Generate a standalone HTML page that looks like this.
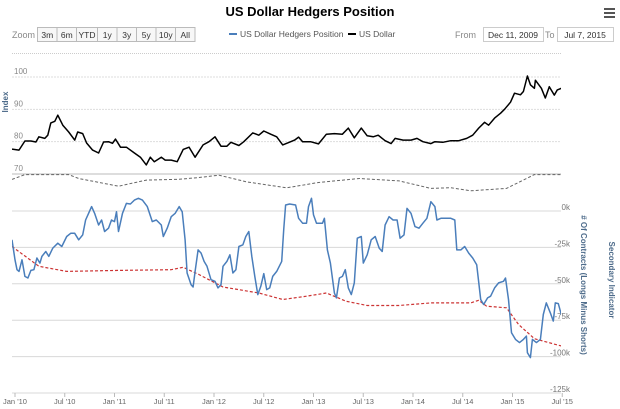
<!DOCTYPE html>
<html><head><meta charset="utf-8"><style>
body{margin:0;background:#fff;font-family:"Liberation Sans",sans-serif;}
svg{display:block}
</style></head><body>
<svg id="chart" width="620" height="409" viewBox="0 0 620 409" xmlns="http://www.w3.org/2000/svg" font-family="Liberation Sans, sans-serif">
<text x="310" y="16" text-anchor="middle" font-size="13" font-weight="bold" fill="#000">US Dollar Hedgers Position</text>
<g fill="#555"><rect x="604" y="8" width="11" height="2"/><rect x="604" y="12" width="11" height="2"/><rect x="604" y="16" width="11" height="2"/></g>
<text x="12" y="38" font-size="9" fill="#888">Zoom</text>
<g id="zoomBtns"></g>
<g>
<g><line x1="229" y1="34" x2="237" y2="34" stroke="#4a7ebb" stroke-width="2"/><text x="240" y="37" font-size="8.5" fill="#555">US Dollar Hedgers Position</text></g>
<g><line x1="348" y1="34" x2="356" y2="34" stroke="#000" stroke-width="2"/><text x="359" y="37" font-size="8.5" fill="#555">US Dollar</text></g>
</g>
<text x="455" y="38" font-size="9" fill="#888">From</text>
<g><rect x="483.5" y="27.5" width="60" height="14" fill="#fff" stroke="#ccc"/><text x="513" y="38" text-anchor="middle" font-size="8.5" fill="#333">Dec 11, 2009</text></g>
<text x="545" y="38" font-size="9" fill="#888">To</text>
<g><rect x="557.5" y="27.5" width="56" height="14" fill="#fff" stroke="#ccc"/><text x="585" y="38" text-anchor="middle" font-size="8.5" fill="#333">Jul 7, 2015</text></g>
<line x1="12" y1="53.5" x2="561" y2="53.5" stroke="#ccc" stroke-dasharray="1,1"/>
<g id="grid"></g>
<defs><clipPath id="botClip"><rect x="12" y="174" width="549" height="230"/></clipPath><clipPath id="topClip"><rect x="12" y="60" width="549" height="114"/></clipPath></defs>
<g id="series"></g>
<g id="axes"></g>
<text transform="translate(8,102) rotate(-90)" text-anchor="middle" font-size="8" font-weight="bold" fill="#4d6b8a">Index</text>
<text transform="translate(581,285) rotate(90)" text-anchor="middle" font-size="8" font-weight="bold" fill="#4d6b8a"># Of Contracts (Longs Minus Shorts)</text>
<text transform="translate(609,280) rotate(90)" text-anchor="middle" font-size="8" font-weight="bold" fill="#4d6b8a">Secondary Indicator</text>
</svg>
<script>
const zoomLabels=["3m","6m","YTD","1y","3y","5y","10y","All"];
const xTickLabels=["Jan '10","Jul '10","Jan '11","Jul '11","Jan '12","Jul '12","Jan '13","Jul '13","Jan '14","Jul '14","Jan '15","Jul '15"];
const xTickYears=[2010,2010.5,2011,2011.5,2012,2012.5,2013,2013.5,2014,2014.5,2015,2015.5];
const leftTicks=[70,80,90,100];
const rightTicks=[0,-25,-50,-75,-100,-125];
const rightTickLabels=["0k","-25k","-50k","-75k","-100k","-125k"];
const usdDates=[2009.97,2010.04,2010.10,2010.16,2010.21,2010.24,2010.30,2010.33,2010.36,2010.40,2010.43,2010.48,2010.54,2010.60,2010.63,2010.68,2010.72,2010.78,2010.84,2010.89,2010.94,2010.98,2011.01,2011.06,2011.12,2011.20,2011.26,2011.32,2011.36,2011.40,2011.47,2011.51,2011.57,2011.63,2011.69,2011.75,2011.81,2011.89,2011.95,2012.01,2012.07,2012.13,2012.17,2012.25,2012.30,2012.39,2012.45,2012.50,2012.57,2012.63,2012.69,2012.75,2012.81,2012.85,2012.89,2012.97,2013.05,2013.13,2013.21,2013.29,2013.35,2013.41,2013.48,2013.54,2013.60,2013.65,2013.72,2013.78,2013.82,2013.90,2013.98,2014.04,2014.10,2014.18,2014.22,2014.30,2014.38,2014.46,2014.54,2014.60,2014.66,2014.72,2014.76,2014.82,2014.88,2014.92,2014.98,2015.02,2015.08,2015.11,2015.15,2015.18,2015.22,2015.23,2015.29,2015.33,2015.37,2015.42,2015.45,2015.49];
const usdValues=[77.7,77.4,80.2,80.2,79.9,81.5,81.0,82.0,85.8,86.3,88.2,85.1,83.0,80.5,83.0,82.5,79.6,77.4,76.5,79.9,80.0,79.5,80.8,78.3,78.3,76.5,75.2,72.8,75.2,73.8,75.2,74.3,74.3,73.8,77.6,78.3,75.2,79.0,80.0,81.5,78.6,78.6,79.8,78.8,80.0,82.7,82.0,83.3,82.3,81.5,79.0,79.7,80.5,81.4,80.0,80.0,79.3,82.3,82.5,82.3,84.2,81.2,84.2,81.8,81.5,82.0,80.3,79.4,81.0,80.5,80.5,81.0,80.0,79.4,80.0,79.8,80.3,80.3,81.0,82.0,84.2,86.0,85.1,87.3,88.8,90.0,92.2,95.0,94.5,95.5,100.3,97.6,96.5,99.0,96.5,93.5,97.0,94.4,96.0,96.5];
const hedgeDates=[2009.97,2010.00,2010.02,2010.04,2010.07,2010.10,2010.13,2010.16,2010.19,2010.22,2010.25,2010.27,2010.31,2010.34,2010.38,2010.43,2010.47,2010.52,2010.56,2010.60,2010.64,2010.68,2010.71,2010.74,2010.77,2010.80,2010.84,2010.87,2010.90,2010.94,2010.97,2011.00,2011.02,2011.04,2011.08,2011.12,2011.16,2011.20,2011.24,2011.28,2011.33,2011.38,2011.42,2011.47,2011.49,2011.53,2011.57,2011.61,2011.65,2011.68,2011.71,2011.73,2011.77,2011.79,2011.81,2011.84,2011.87,2011.90,2011.93,2011.97,2012.01,2012.04,2012.07,2012.09,2012.13,2012.16,2012.19,2012.22,2012.25,2012.29,2012.32,2012.35,2012.38,2012.41,2012.44,2012.47,2012.50,2012.53,2012.56,2012.59,2012.63,2012.68,2012.70,2012.72,2012.76,2012.82,2012.85,2012.89,2012.93,2012.95,2012.98,2013.00,2013.03,2013.09,2013.11,2013.14,2013.17,2013.21,2013.23,2013.26,2013.29,2013.32,2013.35,2013.38,2013.41,2013.44,2013.48,2013.50,2013.54,2013.58,2013.62,2013.66,2013.69,2013.72,2013.76,2013.80,2013.84,2013.87,2013.91,2013.94,2013.98,2014.02,2014.06,2014.10,2014.14,2014.18,2014.22,2014.24,2014.28,2014.33,2014.38,2014.42,2014.44,2014.48,2014.52,2014.56,2014.60,2014.64,2014.68,2014.71,2014.75,2014.78,2014.82,2014.86,2014.91,2014.93,2014.96,2014.99,2015.03,2015.07,2015.11,2015.14,2015.15,2015.18,2015.20,2015.24,2015.28,2015.31,2015.34,2015.38,2015.41,2015.43,2015.46,2015.49];
const hedgeValues=[-19.8,-33.5,-40.3,-41.5,-33.5,-44.9,-46,-40.8,-40.3,-32.3,-35.8,-31.2,-27.8,-31.2,-25.5,-22.1,-24.4,-17.5,-15.3,-15.3,-19.8,-16.4,-6.2,-1.6,3,-1.6,-9.6,-6.2,-14.1,-11.8,-6.2,-7.3,-0.5,-14.1,-1.6,5.2,4.8,7.5,8.7,7.5,3,-7.3,-6.2,-9.6,-17.5,-11.8,-3.9,-1.6,3,-0.5,-19.8,-42.6,-50.6,-52.2,-41.5,-26.7,-28.9,-34.6,-38,-47.2,-48.3,-52.8,-50.6,-38,-34.6,-30.1,-42.6,-40.3,-24.4,-23.2,-17.5,-14.1,-31.2,-44.9,-57.4,-51.7,-43,-54,-52.8,-44.9,-41.5,-34.6,-13,4.1,4.8,4.1,-5,-8.4,-8.4,3,8.7,-2.7,-8.4,-8.4,-5,-26.7,-35.8,-56.3,-59.7,-46,-44.9,-40.3,-52.8,-57.4,-49.4,-18.7,-17.5,-35.8,-30.1,-19.8,-17.5,-25.5,-27.8,-9.6,-3.9,-6.2,-6.2,-18.7,-16.4,1.8,-1.6,-10.7,-11.8,-8.4,-5,6.4,3,-6.2,-5,-5,-5,-6.2,-26.7,-26.7,-24.4,-28.9,-32.3,-36.9,-60.8,-64.2,-59.7,-58.5,-52.8,-49.4,-48.3,-46,-60.8,-83.6,-88.2,-90.4,-88.2,-85.9,-97.3,-100.7,-88.2,-90.4,-88.2,-71.1,-63.1,-69.9,-75.6,-63.1,-63.6,-71.1];
const redDates=[2009.97,2010.24,2010.52,2011.04,2011.57,2011.69,2011.85,2012.09,2012.45,2012.69,2012.93,2013.13,2013.33,2013.54,2013.86,2014.18,2014.58,2014.66,2014.74,2014.94,2015.06,2015.22,2015.49];
const redValues=[-24.4,-38,-41.5,-40.8,-40.3,-38.7,-43.7,-52.2,-56.3,-60.8,-58.5,-56.3,-62,-64.9,-64.9,-63.1,-63.1,-61.3,-65.4,-66.5,-77.9,-87.7,-92.7];
const grayDates=[2009.97,2010.10,2010.54,2010.64,2011.04,2011.32,2011.65,2011.85,2012.05,2012.33,2012.73,2013.05,2013.46,2013.86,2014.18,2014.38,2014.58,2014.94,2015.22,2015.49];
const grayValues=[21.7,25,25,22.3,17,21.2,21.8,23,24.6,20,15.9,19.6,22.3,20.7,15.5,16,13.9,15.5,25,25];

const NS="http://www.w3.org/2000/svg";
function X(yr){return 15+(yr-2010)*99.5;}
function YL(v){return 174-(v-70)*97/30;}
function YR(v){return 211-v*36.4/25;}
function mk(tag,attrs,parent){const e=document.createElementNS(NS,tag);for(const k in attrs)e.setAttribute(k,attrs[k]);parent.appendChild(e);return e;}

const zb=document.getElementById('zoomBtns');
let bx=37;
zoomLabels.forEach((l,i)=>{const w=l==="YTD"?21:(l==="10y"?19.5:19.5);
 const g=mk('g',{},zb);
 
 
 mk('rect',{x:bx+0.5,y:27.5,width:w,height:14,fill:'#f7f7f7',stroke:'#bbb'},g);
 const t=mk('text',{x:bx+w/2+0.5,y:38,'text-anchor':'middle','font-size':'8.5',fill:'#333'},g);t.textContent=l;bx+=w;});

const grid=document.getElementById('grid');
leftTicks.forEach(v=>{const y=YL(v);
 const ln=mk('line',{x1:12,x2:561,y1:y,y2:y,stroke:v===70?'#bbb':'#ddd','stroke-dasharray':v===70?'none':'2,1','stroke-width':1},grid);
 
 
 const t=mk('text',{x:14,y:y-3,'font-size':'8',fill:'#888'},grid);t.textContent=String(v);
 
 });
rightTicks.forEach((v,i)=>{const y=YR(v);
 const ln=mk('line',{x1:12,x2:561,y1:y,y2:y,stroke:'#d8d8d8','stroke-width':1},grid);
 
 
 const t=mk('text',{x:570,y:y-1,'text-anchor':'end','font-size':'8',fill:'#777'},grid);t.textContent=rightTickLabels[i];
 
 });
const axes=document.getElementById('axes');
xTickYears.forEach((yr,i)=>{const x=X(yr);
 mk('line',{x1:x,x2:x,y1:393,y2:397,stroke:'#bbb'},axes);
 const t=mk('text',{x:x,y:404,'text-anchor':'middle','font-size':'7.5',fill:'#666'},axes);t.textContent=xTickLabels[i];
 
 });

const ser=document.getElementById('series');
function line(d,v,yf,attrs,name,clip){const pts=d.map((t,i)=>X(t).toFixed(1)+','+yf(v[i]).toFixed(1)).join(' ');
 const p=mk('polyline',Object.assign({points:pts,fill:'none','stroke-linejoin':'round'},attrs),ser);
 if(clip)p.setAttribute('clip-path','url(#'+clip+')');
 
 }
line(grayDates,grayValues,YR,{stroke:'#666','stroke-width':1,'stroke-dasharray':'3,2'},'secondary-indicator-line','botClip');
line(redDates,redValues,YR,{stroke:'#cc3333','stroke-width':1.2,'stroke-dasharray':'3,2'},'hedgers-trend-line','botClip');
line(hedgeDates,hedgeValues,YR,{stroke:'#4a7ebb','stroke-width':1.5},'hedgers-position-line','botClip');
line(usdDates,usdValues,YL,{stroke:'#000','stroke-width':1.5},'us-dollar-line','topClip');
</script>
</body></html>
